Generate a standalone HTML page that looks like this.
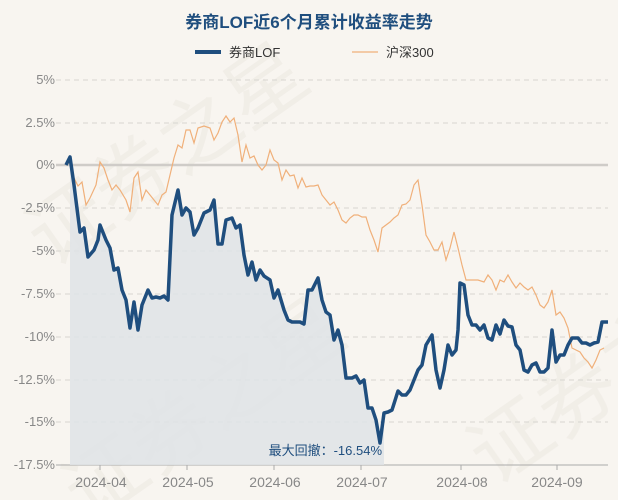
<!DOCTYPE html>
<html><head><meta charset="utf-8"><style>
html,body{margin:0;padding:0;width:618px;height:500px;overflow:hidden;background:#f8f5f0;}
svg{display:block;font-family:"Liberation Sans","Noto Sans CJK SC",sans-serif;}
</style></head><body>
<svg width="618" height="500" viewBox="0 0 618 500" overflow="hidden">
<defs><clipPath id="c"><rect width="618" height="500"/></clipPath></defs>
<rect width="618" height="500" fill="#f8f5f0"/>
<g clip-path="url(#c)"><g fill="#ebe7e1" font-size="80" opacity="0.55">
<text x="30" y="200" transform="rotate(-35 150 200)">证券之星</text>
<text x="40" y="470" transform="rotate(-35 150 420)">证券之星</text>
<text x="460" y="460" transform="rotate(-35 520 420)">证券之星</text>
</g></g>
<text x="309" y="28" text-anchor="middle" font-size="17" font-weight="bold" fill="#1f4e7e">券商LOF近6个月累计收益率走势</text>
<rect x="195" y="50" width="26" height="4" fill="#1f4e7e"/>
<text x="229" y="57" font-size="13" fill="#333">券商LOF</text>
<line x1="352" y1="52" x2="378" y2="52" stroke="#f0b07a" stroke-width="1.3"/>
<text x="386" y="57" font-size="13" fill="#333">沪深300</text>
<g stroke="#d8d5d0" stroke-dasharray="5,4" stroke-width="1">
<line x1="56" y1="80" x2="608" y2="80"/><line x1="56" y1="123" x2="608" y2="123"/>
<line x1="56" y1="208" x2="608" y2="208"/><line x1="56" y1="251" x2="608" y2="251"/>
<line x1="56" y1="294" x2="608" y2="294"/><line x1="56" y1="337" x2="608" y2="337"/>
<line x1="56" y1="380" x2="608" y2="380"/><line x1="56" y1="422" x2="608" y2="422"/>
</g>
<line x1="56" y1="165" x2="608" y2="165" stroke="#cfccc8" stroke-width="2.5"/>
<line x1="56" y1="465" x2="608" y2="465" stroke="#aaa" stroke-width="1"/>
<g font-size="13" fill="#888" text-anchor="end">
<text x="55" y="84">5%</text><text x="55" y="127">2.5%</text><text x="55" y="169">0%</text>
<text x="55" y="212">-2.5%</text><text x="55" y="255">-5%</text><text x="55" y="298">-7.5%</text>
<text x="55" y="341">-10%</text><text x="55" y="384">-12.5%</text><text x="55" y="426">-15%</text>
<text x="55" y="469">-17.5%</text>
</g>
<g stroke="#aaa"><line x1="100" y1="465" x2="100" y2="470"/><line x1="187" y1="465" x2="187" y2="470"/><line x1="274" y1="465" x2="274" y2="470"/><line x1="361" y1="465" x2="361" y2="470"/><line x1="461" y1="465" x2="461" y2="470"/><line x1="557" y1="465" x2="557" y2="470"/></g>
<g font-size="14" fill="#888" text-anchor="middle">
<text x="101" y="487">2024-04</text><text x="188" y="487">2024-05</text><text x="275" y="487">2024-06</text>
<text x="362" y="487">2024-07</text><text x="462" y="487">2024-08</text><text x="557" y="487">2024-09</text>
</g>
<polygon fill="#dfe3e6" opacity="0.85" points="70,465 70,157 74,185 80,232 84,228 88,257 94,250 98,240 100,225 106,240 110,248 114,270 118,268 122,290 126,300 130,328 134,302 138,330 142,305 148,290 152,298 156,297 160,298 164,296 168,300 172,215 178,190 182,215 186,208 190,212 194,235 198,228 204,213 210,210 214,200 218,244 222,244 226,220 232,218 236,228 240,225 244,255 248,275 252,262 256,280 260,270 264,276 270,280 274,298 278,290 284,310 288,320 292,322 300,322 304,324 308,290 312,290 318,278 322,300 326,312 330,315 334,340 338,330 342,345 346,378 352,378 356,376 360,383 364,380 368,408 372,408 376,420 380,443 384,413 384,465"/>
<polyline fill="none" stroke="#f0b07a" stroke-width="1.2" points="66,165 70,162 74,178 78,186 82,182 86,205 90,198 96,185 100,162 104,168 108,180 112,190 116,185 120,190 126,200 130,212 134,178 138,172 142,200 146,190 150,195 154,200 158,205 162,195 166,192 170,175 174,158 178,145 182,148 186,130 190,130 194,143 198,128 204,126 210,128 214,140 218,133 222,122 226,116 230,122 234,118 238,135 242,162 246,145 250,158 254,156 258,165 262,170 266,165 270,150 274,160 278,163 282,180 286,170 290,176 294,175 298,188 302,178 306,187 310,186 314,186 318,185 322,195 326,200 330,205 334,202 338,210 342,220 346,223 350,218 354,215 358,215 362,217 366,217 370,230 374,240 378,252 382,228 386,225 390,222 394,218 398,215 402,205 406,204 410,200 414,185 418,180 422,205 426,235 430,242 434,250 438,250 442,242 446,260 450,248 454,232 458,248 462,265 466,280 470,280 478,280 484,282 488,275 492,280 496,290 500,280 504,282 508,275 512,282 516,288 520,283 524,287 528,290 532,287 536,295 540,305 544,308 548,302 552,290 556,315 560,312 564,318 568,328 572,348 576,350 580,352 584,358 588,362 592,368 596,360 600,350 604,348"/>
<polyline fill="none" stroke="#1f4e7e" stroke-width="3.5" stroke-linejoin="round" points="66,165 70,157 74,185 80,232 84,228 88,257 94,250 98,240 100,225 106,240 110,248 114,270 118,268 122,290 126,300 130,328 134,302 138,330 142,305 148,290 152,298 156,297 160,298 164,296 168,300 172,215 178,190 182,215 186,208 190,212 194,235 198,228 204,213 210,210 214,200 218,244 222,244 226,220 232,218 236,228 240,225 244,255 248,275 252,262 256,280 260,270 264,276 270,280 274,298 278,290 284,310 288,320 292,322 300,322 304,324 308,290 312,290 318,278 322,300 326,312 330,315 334,340 338,330 342,345 346,378 352,378 356,376 360,383 364,380 368,408 372,408 376,420 380,443 384,413 388,412 392,410 398,391 402,395 406,395 410,390 414,380 418,370 422,365 426,345 432,335 436,370 440,388 444,370 448,345 452,355 456,350 458,330 460,283 464,285 468,315 472,325 476,325 480,330 484,325 488,338 492,340 496,325 500,334 504,320 508,326 512,327 516,345 520,350 524,370 528,372 532,365 536,363 540,372 544,372 548,368 552,330 556,362 560,355 564,355 568,345 572,338 578,338 582,343 586,343 590,345 594,343 598,342 602,322 608,322"/>
<text x="382" y="455" text-anchor="end" font-size="13" fill="#1f4e7e">最大回撤：-16.54%</text>
</svg>
</body></html>
